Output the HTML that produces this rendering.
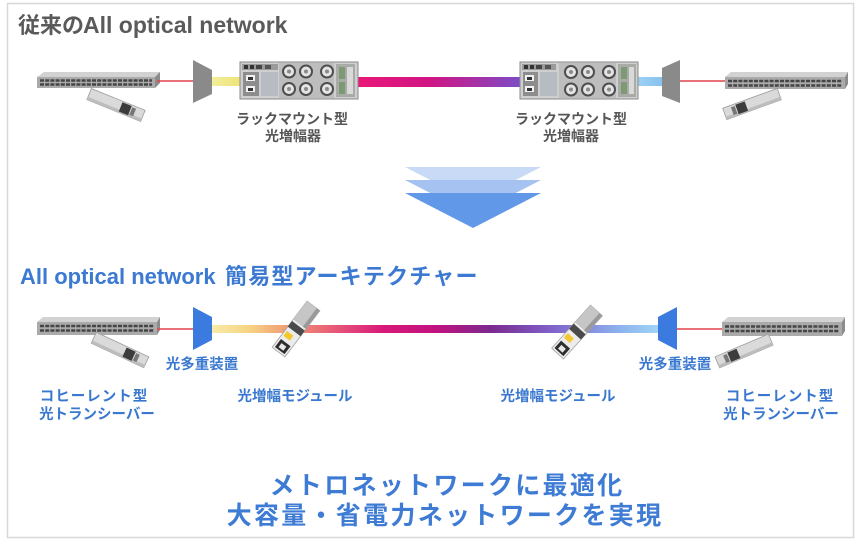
<!DOCTYPE html>
<html><head><meta charset="utf-8"><style>
html,body{margin:0;padding:0;background:#fff;}
svg{display:block;}
text{font-family:"Liberation Sans","Noto Sans CJK JP",sans-serif;font-weight:bold;}
</style></head><body>
<svg width="860" height="543" viewBox="0 0 860 543" xmlns="http://www.w3.org/2000/svg">
<defs>
<linearGradient id="gMag" x1="0" x2="1" y1="0" y2="0">
<stop offset="0" stop-color="#ea1878"/><stop offset="0.45" stop-color="#d01585"/><stop offset="1" stop-color="#7c4cc6"/>
</linearGradient>
<linearGradient id="gYel" x1="0" x2="1"><stop offset="0" stop-color="#f3ee9a"/><stop offset="1" stop-color="#eee47a"/></linearGradient>
<linearGradient id="gBlu" x1="0" x2="1"><stop offset="0" stop-color="#9fd0f4"/><stop offset="1" stop-color="#86c2ee"/></linearGradient>
<linearGradient id="gMain" x1="212" x2="662" y1="0" y2="0" gradientUnits="userSpaceOnUse">
<stop offset="0" stop-color="#f8eba6"/>
<stop offset="0.08" stop-color="#f6d585"/>
<stop offset="0.17" stop-color="#f09a72"/>
<stop offset="0.27" stop-color="#e85a78"/>
<stop offset="0.38" stop-color="#d8197a"/>
<stop offset="0.5" stop-color="#c0127f"/>
<stop offset="0.62" stop-color="#7a2a8e"/>
<stop offset="0.76" stop-color="#8064cc"/>
<stop offset="0.9" stop-color="#8cb0ec"/>
<stop offset="1" stop-color="#a2d8f8"/>
</linearGradient>
</defs>

<!-- frame -->
<rect x="7.5" y="3.5" width="846" height="534" fill="#fff" stroke="#d8d8d8" stroke-width="1.5"/>

<!-- Title 1 -->
<text x="18" y="33" font-size="22" fill="#5a5a5a">従来の<tspan x="83" font-size="23">All optical network</tspan></text>

<!-- ===== TOP ROW ===== -->
<!-- switch L -->
<polygon points="37,77 44,72 160,72 155,77" fill="#d2d2d2"/>
<rect x="37" y="77" width="118" height="11" fill="#aaaaaa"/>
<polygon points="155,77 160,72 160,83 155,88" fill="#8c8c8c"/>
<line x1="40" y1="80.5" x2="152" y2="80.5" stroke="#454545" stroke-width="2.6" stroke-dasharray="4 1.2"/>
<line x1="40" y1="84.5" x2="152" y2="84.5" stroke="#454545" stroke-width="2.6" stroke-dasharray="4 1.2"/>
<!-- transceiver L top -->
<g transform="translate(116,105) rotate(22)">
<rect x="-29" y="-6" width="58" height="12" fill="#dadada" stroke="#9c9c9c" stroke-width="0.8"/>
<rect x="-29" y="3" width="58" height="3" fill="#bdbdbd"/>
<rect x="5" y="-5" width="10" height="10" fill="#3c3c3c"/>
<rect x="16" y="-4" width="4" height="8" fill="#777"/>
</g>
<!-- red line -->
<line x1="157" y1="81" x2="193" y2="81" stroke="#e2444c" stroke-width="1.6"/>
<!-- mux gray L -->
<polygon points="193,60 212,70 212,94 193,103" fill="#8a8a8a"/>
<!-- yellow -->
<rect x="212" y="77" width="29" height="9" fill="url(#gYel)"/>
<!-- magenta line -->
<rect x="357" y="77" width="164" height="10" fill="url(#gMag)"/>
<!-- light blue -->
<rect x="637" y="77" width="26" height="9" fill="url(#gBlu)"/>

<!-- amp L -->
<g>
<rect x="240" y="62" width="118" height="37" fill="#cfcfcf" stroke="#8a8a8a"/>
<rect x="242" y="64" width="36" height="6" fill="#9a9a9a"/>
<rect x="244" y="65" width="4" height="4" fill="#333"/><rect x="250" y="65" width="4" height="4" fill="#333"/><rect x="256" y="65" width="6" height="4" fill="#444"/><rect x="265" y="65" width="6" height="4" fill="#555"/>
<rect x="243" y="72" width="16" height="24" fill="#8d8d8d"/>
<rect x="246" y="75" width="9" height="6" fill="#f2f2f2"/><rect x="246" y="86" width="9" height="6" fill="#f2f2f2"/>
<rect x="248" y="77" width="5" height="3" fill="#333"/><rect x="248" y="88" width="5" height="3" fill="#333"/>
<rect x="261" y="72" width="17" height="24" fill="#b7bcc2"/>
<rect x="279" y="63" width="55" height="35" fill="#bdbdbd"/>
<g fill="#4e4e4e"><circle cx="289" cy="71.5" r="7"/><circle cx="306" cy="71.5" r="7"/><circle cx="327" cy="71.5" r="7"/><circle cx="289" cy="89" r="7"/><circle cx="306" cy="89" r="7"/><circle cx="327" cy="89" r="7"/></g>
<g fill="#e4e4e4"><circle cx="289" cy="71.5" r="5"/><circle cx="306" cy="71.5" r="5"/><circle cx="327" cy="71.5" r="5"/><circle cx="289" cy="89" r="5"/><circle cx="306" cy="89" r="5"/><circle cx="327" cy="89" r="5"/></g>
<g fill="#8a8a8a"><circle cx="289" cy="71.5" r="2"/><circle cx="306" cy="71.5" r="2"/><circle cx="327" cy="71.5" r="2"/><circle cx="289" cy="89" r="2"/><circle cx="306" cy="89" r="2"/><circle cx="327" cy="89" r="2"/></g>
<rect x="336" y="64" width="19" height="33" fill="#a9aca6"/>
<rect x="339" y="67" width="6" height="12" fill="#7e9a74"/><rect x="339" y="82" width="6" height="12" fill="#7e9a74"/>
<rect x="347" y="67" width="6" height="27" fill="#d9d9d9"/>
</g>

<!-- amp R -->
<g>
<rect x="520" y="62" width="118" height="37" fill="#cfcfcf" stroke="#8a8a8a"/>
<rect x="522" y="64" width="34" height="6" fill="#9a9a9a"/>
<rect x="524" y="65" width="4" height="4" fill="#333"/><rect x="530" y="65" width="4" height="4" fill="#333"/><rect x="536" y="65" width="6" height="4" fill="#444"/><rect x="545" y="65" width="6" height="4" fill="#555"/>
<rect x="523" y="72" width="15" height="24" fill="#8d8d8d"/>
<rect x="525" y="75" width="9" height="6" fill="#f2f2f2"/><rect x="525" y="86" width="9" height="6" fill="#f2f2f2"/>
<rect x="527" y="77" width="5" height="3" fill="#333"/><rect x="527" y="88" width="5" height="3" fill="#333"/>
<rect x="540" y="72" width="17" height="24" fill="#b7bcc2"/>
<rect x="559" y="63" width="57" height="35" fill="#bdbdbd"/>
<g fill="#4e4e4e"><circle cx="571" cy="72" r="7"/><circle cx="588" cy="72" r="7"/><circle cx="609" cy="72" r="7"/><circle cx="571" cy="89.5" r="7"/><circle cx="588" cy="89.5" r="7"/><circle cx="609" cy="89.5" r="7"/></g>
<g fill="#e4e4e4"><circle cx="571" cy="72" r="5"/><circle cx="588" cy="72" r="5"/><circle cx="609" cy="72" r="5"/><circle cx="571" cy="89.5" r="5"/><circle cx="588" cy="89.5" r="5"/><circle cx="609" cy="89.5" r="5"/></g>
<g fill="#8a8a8a"><circle cx="571" cy="72" r="2"/><circle cx="588" cy="72" r="2"/><circle cx="609" cy="72" r="2"/><circle cx="571" cy="89.5" r="2"/><circle cx="588" cy="89.5" r="2"/><circle cx="609" cy="89.5" r="2"/></g>
<rect x="618" y="64" width="18" height="33" fill="#a9aca6"/>
<rect x="621" y="67" width="6" height="12" fill="#7e9a74"/><rect x="621" y="82" width="6" height="12" fill="#7e9a74"/>
<rect x="629" y="67" width="5" height="27" fill="#d9d9d9"/>
</g>

<!-- mux gray R -->
<polygon points="662,68 680,60 680,103 662,96" fill="#8a8a8a"/>
<line x1="680" y1="81" x2="726" y2="81" stroke="#e2444c" stroke-width="1.6"/>
<!-- switch R -->
<polygon points="725,77 731,72 848,72 845,77" fill="#d2d2d2"/>
<rect x="725" y="77" width="120" height="12" fill="#aaaaaa"/>
<polygon points="845,77 848,72 848,84 845,89" fill="#8c8c8c"/>
<line x1="728" y1="81" x2="842" y2="81" stroke="#454545" stroke-width="2.6" stroke-dasharray="4 1.2"/>
<line x1="728" y1="85.5" x2="842" y2="85.5" stroke="#454545" stroke-width="2.6" stroke-dasharray="4 1.2"/>
<g transform="translate(752,104) rotate(-20)">
<rect x="-29" y="-6" width="58" height="12" fill="#dadada" stroke="#9c9c9c" stroke-width="0.8"/>
<rect x="-29" y="3" width="58" height="3" fill="#bdbdbd"/>
<rect x="-16" y="-5" width="10" height="10" fill="#3c3c3c"/>
<rect x="-21" y="-4" width="4" height="8" fill="#777"/>
</g>

<!-- top labels -->
<g font-size="14" fill="#555" text-anchor="middle">
<text x="292" y="124">ラックマウント型</text>
<text x="293" y="141">光増幅器</text>
<text x="571" y="124">ラックマウント型</text>
<text x="571" y="141">光増幅器</text>
</g>

<!-- arrow -->
<polygon points="405,167 541,167 473,202" fill="#c8daf6"/>
<polygon points="405,180 541,180 473,215" fill="#a5c2f0"/>
<polygon points="405,193 541,193 473,228" fill="#6198e8"/>

<!-- Title 2 -->
<text x="20" y="284" font-size="22" fill="#3b79d2">All optical network <tspan x="225" font-size="22" letter-spacing="1.2">簡易型アーキテクチャー</tspan></text>

<!-- ===== BOTTOM ROW ===== -->
<polygon points="37,322 43,317 160,317 157,322" fill="#d2d2d2"/>
<rect x="37" y="322" width="120" height="13" fill="#aaaaaa"/>
<polygon points="157,322 160,317 160,330 157,335" fill="#8c8c8c"/>
<line x1="40" y1="326" x2="154" y2="326" stroke="#454545" stroke-width="2.6" stroke-dasharray="4 1.2"/>
<line x1="40" y1="330.5" x2="154" y2="330.5" stroke="#454545" stroke-width="2.6" stroke-dasharray="4 1.2"/>
<g transform="translate(120,350) rotate(25)">
<rect x="-29" y="-6" width="58" height="12" fill="#dadada" stroke="#9c9c9c" stroke-width="0.8"/>
<rect x="-29" y="3" width="58" height="3" fill="#bdbdbd"/>
<rect x="5" y="-5" width="10" height="10" fill="#3c3c3c"/>
<rect x="16" y="-4" width="4" height="8" fill="#777"/>
</g>
<line x1="157" y1="329" x2="193" y2="329" stroke="#e2444c" stroke-width="1.6"/>
<polygon points="193,307 212,317 212,340 193,350" fill="#3b7be0"/>
<rect x="212" y="325" width="447" height="8" fill="url(#gMain)"/>
<polygon points="658,317 677,307 677,350 658,340" fill="#3b7be0"/>
<line x1="677" y1="329" x2="723" y2="329" stroke="#e2444c" stroke-width="1.6"/>

<!-- module 1 -->
<g transform="translate(296,329) rotate(-53)">
<rect x="-29" y="-8" width="58" height="16" fill="#ececec" stroke="#a0a0a0" stroke-width="0.8"/>
<rect x="6" y="-8" width="23" height="16" fill="#c6c6c6"/>
<rect x="6" y="4" width="23" height="4" fill="#9a9a9a"/>
<rect x="-3" y="-8" width="7" height="16" fill="#4a4a4a"/>
<rect x="-13" y="-6" width="6" height="8" fill="#f2c82e"/>
<rect x="-27" y="-6" width="10" height="12" fill="#2e2e2e"/>
<rect x="-25" y="-3" width="5" height="6" fill="#e8e8e8"/>
</g>
<!-- module 2 -->
<g transform="translate(577,332) rotate(-48)">
<rect x="-29" y="-8" width="58" height="16" fill="#ececec" stroke="#a0a0a0" stroke-width="0.8"/>
<rect x="6" y="-8" width="23" height="16" fill="#c6c6c6"/>
<rect x="6" y="4" width="23" height="4" fill="#9a9a9a"/>
<rect x="-3" y="-8" width="7" height="16" fill="#4a4a4a"/>
<rect x="-13" y="-6" width="6" height="8" fill="#f2c82e"/>
<rect x="-27" y="-6" width="10" height="12" fill="#2e2e2e"/>
<rect x="-25" y="-3" width="5" height="6" fill="#e8e8e8"/>
</g>

<!-- switch R bottom -->
<polygon points="722,322 728,317 845,317 842,322" fill="#d2d2d2"/>
<rect x="722" y="322" width="120" height="14" fill="#aaaaaa"/>
<polygon points="842,322 845,317 845,331 842,336" fill="#8c8c8c"/>
<line x1="725" y1="326.5" x2="839" y2="326.5" stroke="#454545" stroke-width="2.6" stroke-dasharray="4 1.2"/>
<line x1="725" y1="331" x2="839" y2="331" stroke="#454545" stroke-width="2.6" stroke-dasharray="4 1.2"/>
<g transform="translate(744,351) rotate(-23)">
<rect x="-29" y="-6" width="58" height="12" fill="#dadada" stroke="#9c9c9c" stroke-width="0.8"/>
<rect x="-29" y="3" width="58" height="3" fill="#bdbdbd"/>
<rect x="-16" y="-5" width="10" height="10" fill="#3c3c3c"/>
<rect x="-21" y="-4" width="4" height="8" fill="#777"/>
</g>

<!-- bottom labels -->
<g font-size="14.5" fill="#3a78d0" text-anchor="middle">
<text x="202" y="369">光多重装置</text>
<text x="675" y="369">光多重装置</text>
<text x="94" y="401" letter-spacing="1">コヒーレント型</text>
<text x="97" y="419">光トランシーバー</text>
<text x="295" y="401">光増幅モジュール</text>
<text x="558" y="401">光増幅モジュール</text>
<text x="780" y="401" letter-spacing="1">コヒーレント型</text>
<text x="781" y="419">光トランシーバー</text>
</g>

<!-- conclusion -->
<g font-size="25" fill="#3d7bd4" text-anchor="middle" letter-spacing="2.3">
<text x="447" y="494">メトロネットワークに最適化</text>
<text x="445" y="524">大容量・省電力ネットワークを実現</text>
</g>
</svg>
</body></html>
